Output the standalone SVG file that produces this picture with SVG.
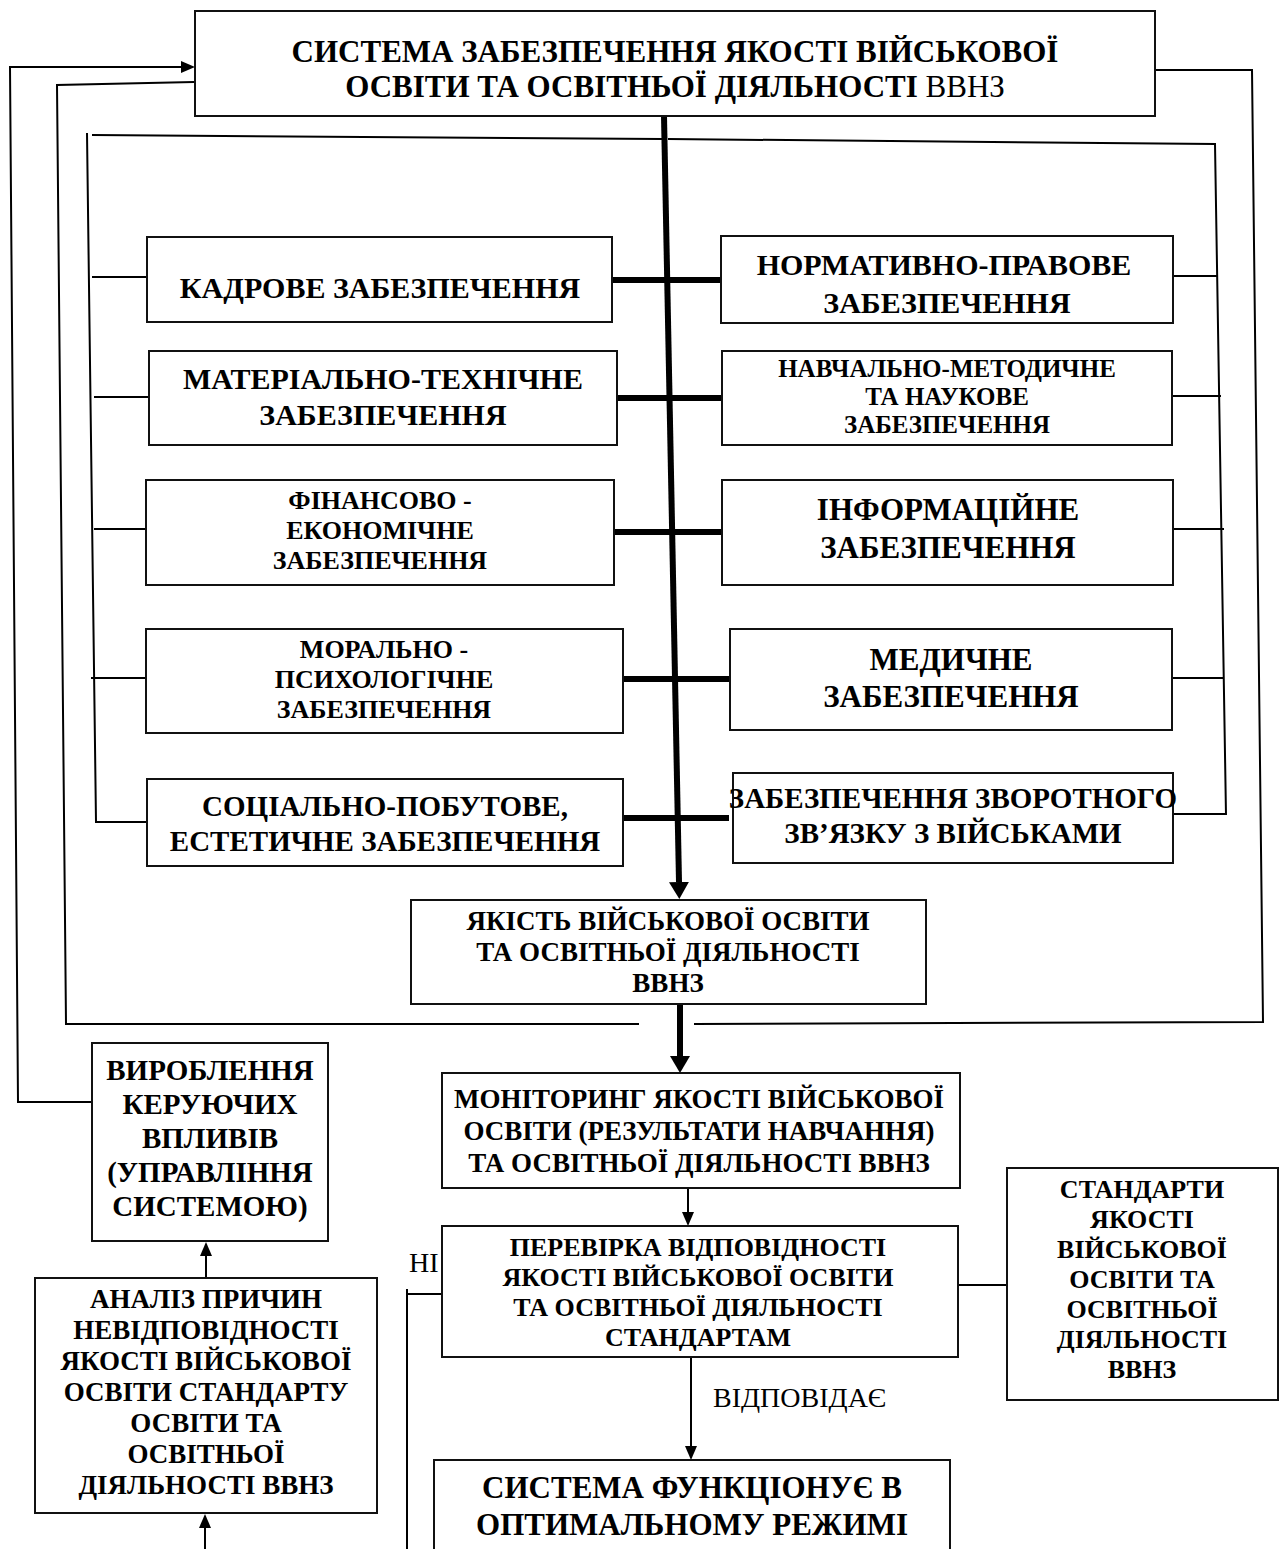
<svg xmlns="http://www.w3.org/2000/svg" width="1280" height="1549" viewBox="0 0 1280 1549">
<style>
.box{fill:#fff;stroke:#111;stroke-width:2}
.t{font-family:"Liberation Serif","Times New Roman",serif;font-weight:bold;fill:#000;text-anchor:middle}
.n{font-family:"Liberation Serif","Times New Roman",serif;font-weight:normal;fill:#000}
.thin{fill:none;stroke:#000;stroke-width:2}
.thick{fill:none;stroke:#000;stroke-width:6}
</style>
<defs>
<marker id="ab" viewBox="0 0 17 20" markerWidth="17" markerHeight="20" refX="0" refY="10" orient="auto" markerUnits="userSpaceOnUse"><path d="M0,0 L17,10 L0,20 z" fill="#000"/></marker>
<marker id="as" viewBox="0 0 14 12" markerWidth="14" markerHeight="12" refX="0" refY="6" orient="auto" markerUnits="userSpaceOnUse"><path d="M0,0 L14,6 L0,12 z" fill="#000"/></marker>
</defs>
<rect width="1280" height="1549" fill="#fff"/>

<g id="connectors">
<path class="thin" d="M92,1102 L18,1102 L10,67 L181,67" marker-end="url(#as)"/>
<path class="thin" d="M194,82 L57,85 L66,1024 L639,1024"/>
<path class="thin" d="M694,1024 L1263,1022 L1252,70 L1155,70"/>
<path class="thin" d="M92,135 L662,139"/>
<path class="thin" d="M668,139 L1215,144 L1226,815"/>
<path class="thin" d="M87,133 L96,822 L147,822"/>
<path class="thin" d="M92,277 L147,277"/>
<path class="thin" d="M94,397 L149,397"/>
<path class="thin" d="M94,529 L146,529"/>
<path class="thin" d="M91,678 L146,678"/>
<path class="thin" d="M1173,276 L1217,276"/>
<path class="thin" d="M1172,396 L1221,396"/>
<path class="thin" d="M1173,529 L1224,529"/>
<path class="thin" d="M1172,678 L1224,678"/>
<path class="thin" d="M1173,814 L1226,814"/>
<path class="thick" d="M664,116 L679,882" marker-end="url(#ab)"/>
<path class="thick" d="M612,280 L721,280"/>
<path class="thick" d="M617,398 L722,398"/>
<path class="thick" d="M614,532 L722,532"/>
<path class="thick" d="M623,679 L730,679"/>
<path class="thick" d="M623,818 L729,818"/>
<path class="thick" d="M680,1004 L680,1056" marker-end="url(#ab)"/>
<path class="thin" d="M688,1188 L688,1212" marker-end="url(#as)"/>
<path class="thin" d="M691,1357 L691,1446" marker-end="url(#as)"/>
<path class="thin" d="M206,1278 L206,1256" marker-end="url(#as)"/>
<path class="thin" d="M205,1549 L205,1528" marker-end="url(#as)"/>
<path class="thin" d="M958,1285 L1007,1285"/>
<path class="thin" d="M442,1294 L407,1294"/>
<path class="thin" d="M407,1289 L407,1549"/>
</g>

<g id="title">
<rect class="box" x="195" y="11" width="960" height="105"/>
<text class="t" x="675" y="62" font-size="31">СИСТЕМА ЗАБЕЗПЕЧЕННЯ ЯКОСТІ ВІЙСЬКОВОЇ</text>
<text class="t" x="675" y="97" font-size="31">ОСВІТИ ТА ОСВІТНЬОЇ ДІЯЛЬНОСТІ <tspan font-weight="normal">ВВНЗ</tspan></text>
</g>

<g id="kadrove">
<rect class="box" x="147" y="237" width="465" height="85"/>
<text class="t" x="380" y="298" font-size="30">КАДРОВЕ ЗАБЕЗПЕЧЕННЯ</text>
</g>
<g id="materialno">
<rect class="box" x="149" y="351" width="468" height="94"/>
<text class="t" x="383" y="389" font-size="30">МАТЕРІАЛЬНО-ТЕХНІЧНЕ</text>
<text class="t" x="383" y="425" font-size="30">ЗАБЕЗПЕЧЕННЯ</text>
</g>
<g id="finansovo">
<rect class="box" x="146" y="480" width="468" height="105"/>
<text class="t" x="380" y="509" font-size="26">ФІНАНСОВО -</text>
<text class="t" x="380" y="539" font-size="26">ЕКОНОМІЧНЕ</text>
<text class="t" x="380" y="569" font-size="26">ЗАБЕЗПЕЧЕННЯ</text>
</g>
<g id="moralno">
<rect class="box" x="146" y="629" width="477" height="104"/>
<text class="t" x="384" y="658" font-size="26">МОРАЛЬНО -</text>
<text class="t" x="384" y="688" font-size="26">ПСИХОЛОГІЧНЕ</text>
<text class="t" x="384" y="718" font-size="26">ЗАБЕЗПЕЧЕННЯ</text>
</g>
<g id="sotsialno">
<rect class="box" x="147" y="779" width="476" height="87"/>
<text class="t" x="385" y="816" font-size="29">СОЦІАЛЬНО-ПОБУТОВЕ,</text>
<text class="t" x="385" y="851" font-size="29">ЕСТЕТИЧНЕ ЗАБЕЗПЕЧЕННЯ</text>
</g>

<g id="normatyvno">
<rect class="box" x="721" y="236" width="452" height="87"/>
<text class="t" x="944" y="275" font-size="30">НОРМАТИВНО-ПРАВОВЕ</text>
<text class="t" x="947" y="313" font-size="30">ЗАБЕЗПЕЧЕННЯ</text>
</g>
<g id="navchalno">
<rect class="box" x="722" y="351" width="450" height="94"/>
<text class="t" x="947" y="377" font-size="25">НАВЧАЛЬНО-МЕТОДИЧНЕ</text>
<text class="t" x="947" y="405" font-size="25">ТА НАУКОВЕ</text>
<text class="t" x="947" y="433" font-size="25">ЗАБЕЗПЕЧЕННЯ</text>
</g>
<g id="informatsiine">
<rect class="box" x="722" y="480" width="451" height="105"/>
<text class="t" x="948" y="520" font-size="31">ІНФОРМАЦІЙНЕ</text>
<text class="t" x="948" y="558" font-size="31">ЗАБЕЗПЕЧЕННЯ</text>
</g>
<g id="medychne">
<rect class="box" x="730" y="629" width="442" height="101"/>
<text class="t" x="951" y="670" font-size="31">МЕДИЧНЕ</text>
<text class="t" x="951" y="707" font-size="31">ЗАБЕЗПЕЧЕННЯ</text>
</g>
<g id="zvorotnyi">
<rect class="box" x="733" y="773" width="440" height="90"/>
<text class="t" x="953" y="808" font-size="29">ЗАБЕЗПЕЧЕННЯ ЗВОРОТНОГО</text>
<text class="t" x="953" y="843" font-size="29">ЗВ’ЯЗКУ З ВІЙСЬКАМИ</text>
</g>

<g id="yakist">
<rect class="box" x="411" y="900" width="515" height="104"/>
<text class="t" x="668" y="930" font-size="27">ЯКІСТЬ ВІЙСЬКОВОЇ ОСВІТИ</text>
<text class="t" x="668" y="961" font-size="27">ТА ОСВІТНЬОЇ ДІЯЛЬНОСТІ</text>
<text class="t" x="668" y="992" font-size="27">ВВНЗ</text>
</g>
<g id="monitoring">
<rect class="box" x="442" y="1073" width="518" height="115"/>
<text class="t" x="699" y="1108" font-size="27">МОНІТОРИНГ ЯКОСТІ ВІЙСЬКОВОЇ</text>
<text class="t" x="699" y="1140" font-size="27">ОСВІТИ (РЕЗУЛЬТАТИ НАВЧАННЯ)</text>
<text class="t" x="699" y="1172" font-size="27">ТА ОСВІТНЬОЇ ДІЯЛЬНОСТІ ВВНЗ</text>
</g>
<g id="perevirka">
<rect class="box" x="442" y="1226" width="516" height="131"/>
<text class="t" x="698" y="1256" font-size="26">ПЕРЕВІРКА ВІДПОВІДНОСТІ</text>
<text class="t" x="698" y="1286" font-size="26">ЯКОСТІ ВІЙСЬКОВОЇ ОСВІТИ</text>
<text class="t" x="698" y="1316" font-size="26">ТА ОСВІТНЬОЇ ДІЯЛЬНОСТІ</text>
<text class="t" x="698" y="1346" font-size="26">СТАНДАРТАМ</text>
</g>
<g id="standarty">
<rect class="box" x="1007" y="1168" width="271" height="232"/>
<text class="t" x="1142" y="1198" font-size="26">СТАНДАРТИ</text>
<text class="t" x="1142" y="1228" font-size="26">ЯКОСТІ</text>
<text class="t" x="1142" y="1258" font-size="26">ВІЙСЬКОВОЇ</text>
<text class="t" x="1142" y="1288" font-size="26">ОСВІТИ ТА</text>
<text class="t" x="1142" y="1318" font-size="26">ОСВІТНЬОЇ</text>
<text class="t" x="1142" y="1348" font-size="26">ДІЯЛЬНОСТІ</text>
<text class="t" x="1142" y="1378" font-size="26">ВВНЗ</text>
</g>
<g id="vyroblennia">
<rect class="box" x="92" y="1043" width="236" height="198"/>
<text class="t" x="210" y="1080" font-size="29">ВИРОБЛЕННЯ</text>
<text class="t" x="210" y="1114" font-size="29">КЕРУЮЧИХ</text>
<text class="t" x="210" y="1148" font-size="29">ВПЛИВІВ</text>
<text class="t" x="210" y="1182" font-size="29">(УПРАВЛІННЯ</text>
<text class="t" x="210" y="1216" font-size="29">СИСТЕМОЮ)</text>
</g>
<g id="analiz">
<rect class="box" x="35" y="1278" width="342" height="235"/>
<text class="t" x="206" y="1308" font-size="27">АНАЛІЗ ПРИЧИН</text>
<text class="t" x="206" y="1339" font-size="27">НЕВІДПОВІДНОСТІ</text>
<text class="t" x="206" y="1370" font-size="27">ЯКОСТІ ВІЙСЬКОВОЇ</text>
<text class="t" x="206" y="1401" font-size="27">ОСВІТИ СТАНДАРТУ</text>
<text class="t" x="206" y="1432" font-size="27">ОСВІТИ ТА</text>
<text class="t" x="206" y="1463" font-size="27">ОСВІТНЬОЇ</text>
<text class="t" x="206" y="1494" font-size="27">ДІЯЛЬНОСТІ ВВНЗ</text>
</g>
<g id="optymalno">
<rect class="box" x="434" y="1460" width="516" height="110"/>
<text class="t" x="692" y="1498" font-size="31">СИСТЕМА ФУНКЦІОНУЄ В</text>
<text class="t" x="692" y="1535" font-size="31">ОПТИМАЛЬНОМУ РЕЖИМІ</text>
</g>

<g id="labels">
<text class="n" x="409" y="1272" font-size="28">НІ</text>
<text class="n" x="713" y="1407" font-size="28">ВІДПОВІДАЄ</text>
</g>
</svg>
